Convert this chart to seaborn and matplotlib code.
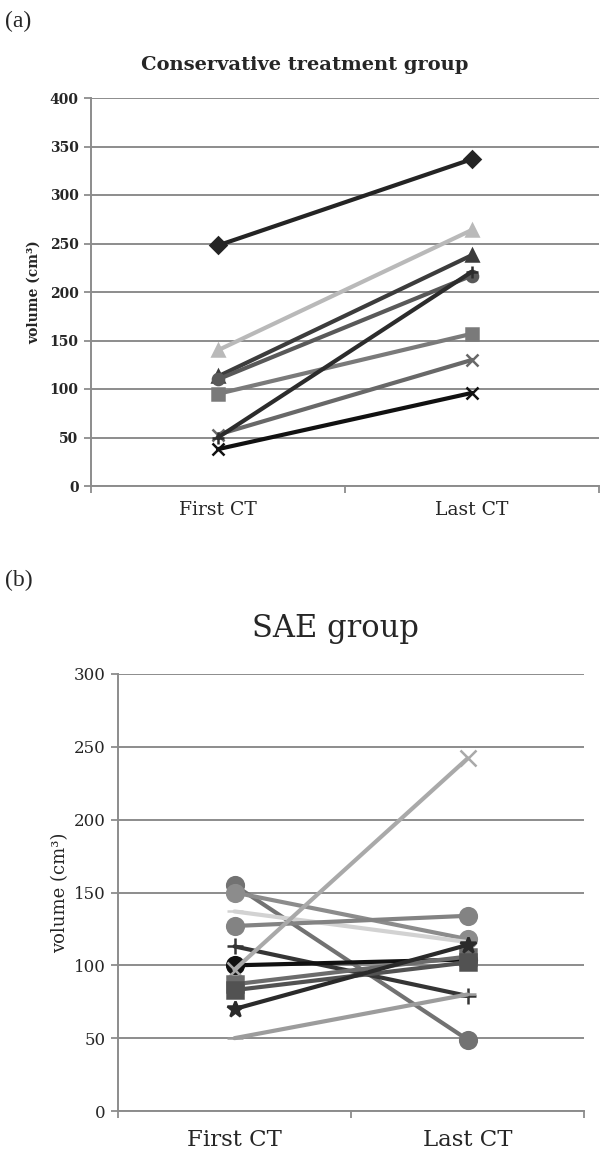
import numpy as np
import pandas as pd
import seaborn as sns
import matplotlib.pyplot as plt

# -------------------- DATOS --------------------
timepoints = ["First CT", "Last CT"]

# (a) conservative treatment group
cons_first = [248, 140, 113, 110, 95, 53, 50, 38]
cons_last = [337, 264, 238, 217, 157, 130, 221, 96]
cons_colors = ["#242424", "#b9b9b9", "#3c3c3c", "#595959", "#7a7a7a", "#686868", "#2c2c2c", "#111111"]
cons_markers = ["D", "^", "^", "o", "s", "x", "+", "x"]

# (b) SAE group
sae_first = [155, 150, 137, 127, 113, 100, 97, 87, 83, 70, 50]
sae_last = [49, 118, 116, 134, 79, 104, 242, 106, 102, 114, 80]
sae_colors = ["#727272", "#8c8c8c", "#d2d2d2", "#838383", "#353535", "#111111",
              "#a9a9a9", "#6c6c6c", "#525252", "#2a2a2a", "#9c9c9c"]
sae_markers = ["o", "o", "_", "o", "+", "o", "x", "s", "s", "*", "_"]

sns.set_style("white")
FAM = "DejaVu Serif"


def draw(ax, first, last, colors, markers, ymax, lw, ms, tick_fs, tick_w, xfs, xoff):
    for a, b, c, m in zip(first, last, colors, markers):
        df = pd.DataFrame({"pos": [0, 1], "vol": [a, b]})
        sns.lineplot(data=df, x="pos", y="vol", color=c, marker=m,
                     linewidth=lw, markersize=ms, markeredgewidth=1.8,
                     markeredgecolor=c, ax=ax, zorder=3)
    ax.set_xlim(-0.5, 1.5)
    ax.set_ylim(0, ymax)
    ax.set_yticks(np.arange(0, ymax + 1, 50))
    ax.yaxis.grid(True, color="#8c8c8c", linewidth=1.4, zorder=0)
    ax.set_axisbelow(True)
    for s in ["top", "right"]:
        ax.spines[s].set_visible(False)
    for s in ["left", "bottom"]:
        ax.spines[s].set_color("#8c8c8c")
        ax.spines[s].set_linewidth(1.4)
    ax.set_xticks([-0.5, 0.5, 1.5])
    ax.set_xticklabels(["", "", ""])
    ax.tick_params(axis="both", length=5, width=1.3, color="#8c8c8c", left=True, bottom=True, pad=4)
    for i, t in enumerate(timepoints):
        ax.text(i, xoff, t, transform=ax.get_xaxis_transform(), ha="center", va="center",
                family=FAM, fontsize=xfs)
    for lab in ax.get_yticklabels():
        lab.set_family(FAM)
        lab.set_fontsize(tick_fs)
        lab.set_fontweight(tick_w)
    ax.set_xlabel("")


fig = plt.figure(figsize=(6.03, 11.54), dpi=100)

# (a) ejes: x 91..599 px, y 98..486 px
ax1 = fig.add_axes([91 / 603, 1 - 486 / 1154, 508 / 603, 388 / 1154])
draw(ax1, cons_first, cons_last, cons_colors, cons_markers, 400,
     3.0, 8, 10, "bold", 13.5, -24 / 388)
ax1.set_ylabel("volume (cm³)", family=FAM, fontsize=10, fontweight="bold", labelpad=6)

# (b) ejes: x 118..584 px, y 674..1111 px
ax2 = fig.add_axes([118 / 603, 1 - 1111 / 1154, 466 / 603, 437 / 1154])
draw(ax2, sae_first, sae_last, sae_colors, sae_markers, 300,
     3.0, 12, 12, "normal", 16.5, -29 / 437)
ax2.set_ylabel("volume (cm³)", family=FAM, fontsize=13, labelpad=3)

fig.text(305 / 603, 1 - 65 / 1154, "Conservative treatment group", ha="center", va="center",
         family=FAM, fontsize=14, fontweight="bold")
fig.text(335 / 603, 1 - 628 / 1154, "SAE group", ha="center", va="center",
         family=FAM, fontsize=22)
fig.text(5 / 603, 1 - 21 / 1154, "(a)", ha="left", va="center", family="Liberation Serif", fontsize=17)
fig.text(5 / 603, 1 - 580 / 1154, "(b)", ha="left", va="center", family="Liberation Serif", fontsize=17)

fig.savefig("out.png", dpi=100)
